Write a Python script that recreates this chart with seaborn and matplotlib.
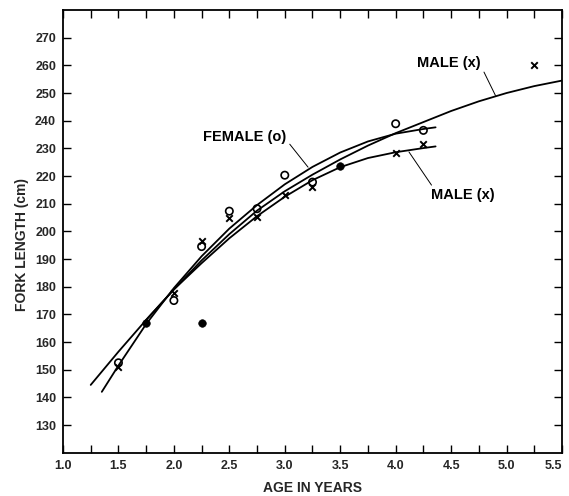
import matplotlib
matplotlib.use("Agg")
import matplotlib.pyplot as plt
import seaborn as sns
import pandas as pd
import numpy as np
from matplotlib.ticker import MultipleLocator

sns.set_theme(style="white")
plt.rcParams['font.family'] = ['Liberation Sans', 'DejaVu Sans']

# ---- observed points ----
female_age = [1.5, 2.0, 2.25, 2.5, 2.75, 3.0, 3.25, 4.0, 4.25]
female_len = [152.5, 175, 194.5, 207.3, 208.2, 220.3, 217.8, 238.9, 236.5]
male_age = [1.5, 2.0, 2.25, 2.5, 2.75, 3.0, 3.25, 4.0, 4.25, 5.25]
male_len = [151, 177.8, 196.5, 204.8, 205.2, 213, 216, 228.3, 231.4, 260]
both_age = [1.75, 2.25, 3.5]
both_len = [167, 167, 223.5]

# ---- fitted curves ----
male_long_age = [1.25, 1.5, 1.75, 2.0, 2.25, 2.5, 2.75, 3.0, 3.25, 3.5, 3.75,
                 4.0, 4.25, 4.5, 4.75, 5.0, 5.25, 5.5]
male_long_len = [144.5, 156.5, 168, 179, 189.5, 199, 207.5, 214.5, 220.5, 226, 231,
                 235.5, 239.5, 243.5, 247, 250, 252.5, 254.5]
female_curve_age = [1.35, 1.5, 1.75, 2.0, 2.25, 2.5, 2.75, 3.0, 3.25, 3.5, 3.75,
                    4.0, 4.25, 4.36]
female_curve_len = [142, 151.5, 166.5, 179.5, 191, 201, 209.5, 217, 223.3, 228.5, 232.5,
                    235.3, 237, 237.6]
male_short_age = [1.75, 2.0, 2.25, 2.5, 2.75, 3.0, 3.25, 3.5, 3.75, 4.0, 4.25, 4.36]
male_short_len = [168, 179, 188.5, 197.5, 205.5, 212.5, 218.5, 223.2, 226.5, 228.6, 230.1, 230.7]

x_ticks = [1.0, 1.5, 2.0, 2.5, 3.0, 3.5, 4.0, 4.5, 5.0, 5.5]
y_ticks = list(range(130, 280, 10))

fig = plt.figure(figsize=(5.69, 4.96), dpi=100)
ax = fig.add_axes([0.1107, 0.0873, 0.877, 0.8925])

curves = [
    (male_long_age, male_long_len),
    (female_curve_age, female_curve_len),
    (male_short_age, male_short_len),
]
for a, l in curves:
    df = pd.DataFrame({"age": a, "len": l})
    sns.lineplot(data=df, x="age", y="len", ax=ax, color="black", linewidth=1.3,
                 sort=False, estimator=None)

sns.scatterplot(x=female_age, y=female_len, ax=ax, marker="o", s=28,
                facecolor="none", edgecolor="black", linewidth=1.2, zorder=5)
sns.scatterplot(x=male_age, y=male_len, ax=ax, marker="x", s=22,
                color="black", linewidth=1.4, zorder=5)
sns.scatterplot(x=both_age, y=both_len, ax=ax, marker="o", s=30,
                color="black", edgecolor="black", zorder=5)

# annotations
txt_kw = dict(fontsize=10.5, fontweight="bold", color="black")
ax.annotate("FEMALE (o)", xy=(3.21, 223.2), xytext=(2.64, 234),
            ha="center", va="center", **txt_kw,
            arrowprops=dict(arrowstyle="-", color="black", lw=0.7,
                            shrinkA=0, shrinkB=0, relpos=(1.0, 0.3)))
ax.annotate("MALE (x)", xy=(4.90, 249.1), xytext=(4.48, 261),
            ha="center", va="center", **txt_kw,
            arrowprops=dict(arrowstyle="-", color="black", lw=0.7,
                            shrinkA=0, shrinkB=0, relpos=(1.0, 0.3)))
ax.annotate("MALE (x)", xy=(4.12, 228.7), xytext=(4.61, 213),
            ha="center", va="center", **txt_kw,
            arrowprops=dict(arrowstyle="-", color="black", lw=0.7,
                            shrinkA=0, shrinkB=0, relpos=(0.05, 0.9)))

ax.set_xlim(1.0, 5.5)
ax.set_ylim(120, 280)
ax.set_xticks(x_ticks)
ax.set_xticklabels([f"{v:.1f}" for v in x_ticks])
ax.xaxis.set_minor_locator(MultipleLocator(0.25))
ax.set_yticks(y_ticks)
ax.set_yticklabels([str(v) for v in y_ticks])

ax.tick_params(axis="both", which="both", direction="in", length=6, width=1,
               color="black", top=True, right=True, bottom=True, left=True,
               labelsize=9, pad=5)
for lab in ax.get_xticklabels() + ax.get_yticklabels():
    lab.set_fontweight("bold")
# keep the last x label inside the canvas
ax.get_xticklabels()[-1].set_horizontalalignment("right")

for sp in ax.spines.values():
    sp.set_color("black")
    sp.set_linewidth(1.3)

ax.set_xlabel("AGE IN YEARS", fontsize=10, fontweight="bold")
ax.xaxis.set_label_coords(0.5, -0.063)
ax.set_ylabel("FORK LENGTH (cm)", fontsize=10, fontweight="bold")
ax.yaxis.set_label_coords(-0.068, 0.47)
ax.grid(False)

fig.savefig("out.png", dpi=100)
